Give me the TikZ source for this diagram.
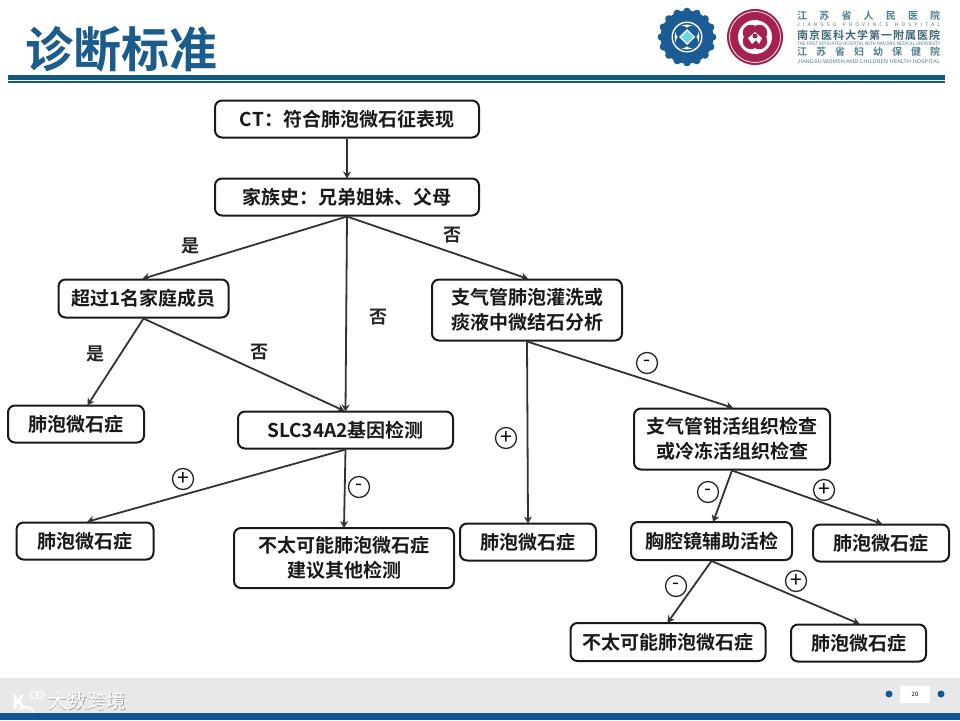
\documentclass[tikz,border=0pt]{standalone}
\usepackage{graphicx}
\usepackage{fontspec}
\setmainfont{Noto Sans CJK SC}[BoldFont={* Bold}]
\usetikzlibrary{arrows.meta,calc}
\definecolor{titleblue}{HTML}{1C5C8C}
\definecolor{ruleblue}{HTML}{12587F}
\definecolor{footblue}{HTML}{0F5898}
\definecolor{footgray}{HTML}{E8E8E8}
\definecolor{logoblue}{HTML}{1B5C94}
\definecolor{logored}{HTML}{A5214F}
\definecolor{logotext}{HTML}{4F7F8F}
\definecolor{logodark}{HTML}{3F6678}
\newcommand{\spreadline}[1]{\makebox[143pt][s]{#1}}
\tikzset{
 box/.style={draw=black!90,line width=2pt,rounded corners=7pt,fill=white,inner sep=0pt,align=center,font=\fontsize{19}{25}\selectfont\bfseries,text=black!90},
 conn/.style={draw=black!80,line width=1.8pt,-{Stealth[length=7pt,width=8pt]},shorten >=-1pt},
 lab/.style={font=\fontsize{18}{20}\selectfont\bfseries,text=black!85,inner sep=0pt},
 signbase/.style={circle,draw=black!85,line width=1.3pt,minimum size=21pt,inner sep=0pt,fill=white},
 plussign/.style={signbase,font=\fontsize{21}{21}\selectfont},
 minussign/.style={signbase,font=\fontsize{20}{20}\selectfont},
 hosp/.style={font=\fontsize{10}{10}\selectfont\bfseries,text=logotext,inner sep=0pt,anchor=west},
 tiny/.style={font=\fontsize{5}{5}\selectfont,text=logotext,inner sep=0pt,anchor=west},
 wmark/.style={font=\fontsize{19.5}{20}\selectfont,inner sep=0pt,anchor=west}
}
\begin{document}
\begin{tikzpicture}[x=1pt,y=-1pt]
\useasboundingbox (0,0) rectangle (960,720);
\fill[white] (0,0) rectangle (960,720);
% title and rules
\node[font=\fontsize{48}{48}\selectfont\bfseries,text=titleblue,inner sep=0pt,anchor=west] (title) at (25,49) {诊断标准};
\fill[ruleblue] (8,75) rectangle (945,79.5);
\fill[ruleblue] (8,80.5) rectangle (945,82.5);
% blue logo
\fill[logoblue] (687,37) circle (26.5);
\foreach \a in {0,22.5,...,337.5} \fill[logoblue] ($(687,37)+(\a:25.5)$) circle (3.8);
\fill[white] (687,37) circle (15.5);
\fill[logoblue] (687,37) circle (14);
\fill[white] (687,37) circle (12.5);
\foreach \a in {45,135,225,315} \fill[logoblue] ($(687,37)+(\a:6.5)$) circle (6.5);
\fill[white] (687,29) -- (695,37) -- (687,45) -- (679,37) -- cycle;
\fill[logoblue!45!cyan!60] (687,31) -- (693,37) -- (687,43) -- (681,37) -- cycle;
% red logo
\fill[logored] (755,37) circle (28);
\draw[white,line width=0.7pt] (755,37) circle (25.5);
\fill[white] (755,37) circle (17);
\foreach \a in {45,135,225,315} \fill[logored] ($(755,37)+(\a:6)$) circle (8);
\fill[white] (755,32) -- (762,38) -- (759,44) -- (756,40) -- (752,44) -- (748,38) -- cycle;
\fill[logored] (755,36) circle (2.5);
% hospital names
\node[hosp] (h1) at (797,16) {\spreadline{江\hfil 苏\hfil 省\hfil 人\hfil 民\hfil 医\hfil 院}};
\node[tiny] (h2) at (797,25) {\spreadline{J\hfil I\hfil A\hfil N\hfil G\hfil S\hfil U\hfil\hfil P\hfil R\hfil O\hfil V\hfil I\hfil N\hfil C\hfil E\hfil\hfil H\hfil O\hfil S\hfil P\hfil I\hfil T\hfil A\hfil L}};
\node[hosp,font=\fontsize{11}{11}\selectfont\bfseries,text=logodark] (h3) at (797,35) {\spreadline{南\hfil 京\hfil 医\hfil 科\hfil 大\hfil 学\hfil 第\hfil 一\hfil 附\hfil 属\hfil 医\hfil 院}};
\node[tiny] (h4) at (797,43.5) {\resizebox{143pt}{3.6pt}{THE FIRST AFFILIATED HOSPITAL WITH NANJING MEDICAL UNIVERSITY}};
\node[hosp] (h5) at (797,52) {\spreadline{江\hfil 苏\hfil 省\hfil 妇\hfil 幼\hfil 保\hfil 健\hfil 院}};
\node[tiny] (h6) at (797,61.5) {\resizebox{143pt}{3.8pt}{JIANGSU WOMEN AND CHILDREN HEALTH HOSPITAL}};
% footer
\fill[footgray] (0,678) rectangle (960,713);
\fill[footblue] (0,713) rectangle (960,720);
\fill[footblue] (889,694) circle (3.5);
\fill[footblue] (941,694) circle (3.5);
\node[fill=white,minimum width=30pt,minimum height=17pt,inner sep=0pt,font=\fontsize{6}{6}\selectfont] (pg) at (915,694) {20};
% watermark
\node[wmark,text=black!35] (wmshadow) at (48.7,701.7) {大数跨境};
\node[wmark,text=white] (wm) at (48,701) {大数跨境};
\node[font=\fontsize{19}{19}\selectfont\bfseries,text=white,inner sep=0pt] (wmk) at (19,702) {K};
\draw[white,line width=1.4pt] (19,710) arc (220:340:9);
\draw[white,line width=1pt] (34,695) circle (3.8) (40,695) circle (3.8);
% boxes
\node[box,minimum width=264pt,minimum height=37pt] (ct) at (347,119) {CT：符合肺泡微石征表现};
\node[box,minimum width=264pt,minimum height=37pt] (fam) at (347,197) {家族史：兄弟姐妹、父母};
\node[box,minimum width=170pt,minimum height=38pt] (over) at (143.5,298.5) {超过1名家庭成员};
\node[box,minimum width=190pt,minimum height=61pt] (bal) at (527,310) {支气管肺泡灌洗或\\痰液中微结石分析};
\node[box,minimum width=136pt,minimum height=37pt] (pam1) at (76,424) {肺泡微石症};
\node[box,minimum width=215pt,minimum height=37pt] (slc) at (345.5,430) {SLC34A2基因检测};
\node[box,minimum width=196pt,minimum height=61pt] (biopsy) at (732,439) {支气管钳活组织检查\\或冷冻活组织检查};
\node[box,minimum width=137pt,minimum height=37pt] (pam2) at (85,541) {肺泡微石症};
\node[box,minimum width=220pt,minimum height=60pt] (unl1) at (344,558) {不太可能肺泡微石症\\建议其他检测};
\node[box,minimum width=136pt,minimum height=37pt] (pam3) at (528,542) {肺泡微石症};
\node[box,minimum width=161pt,minimum height=38pt] (vats) at (711.5,541) {胸腔镜辅助活检};
\node[box,minimum width=136pt,minimum height=37pt] (pam4) at (881,543) {肺泡微石症};
\node[box,minimum width=195pt,minimum height=38pt] (unl2) at (668,642) {不太可能肺泡微石症};
\node[box,minimum width=135pt,minimum height=37pt] (pam5) at (858.5,643) {肺泡微石症};
% connectors
\draw[conn] (ct) -- (fam);
\draw[conn] (fam.south) -- (over.north);
\draw[conn] (fam.south) -- (slc.north);
\draw[conn] (fam.south) -- (bal.north);
\draw[conn] (over.south) -- ([xshift=12pt]pam1.north);
\draw[conn] (over.south) -- ([xshift=-2pt]slc.north);
\draw[conn] (slc.south) -- ([xshift=3pt]pam2.north);
\draw[conn] (slc.south) -- (unl1.north);
\draw[conn] (bal.south) -- (pam3.north);
\draw[conn] (bal.south) -- (biopsy.north);
\draw[conn] (biopsy.south) -- ([xshift=2pt]vats.north);
\draw[conn] (biopsy.south) -- (pam4.north);
\draw[conn] (vats.south) -- (unl2.north);
\draw[conn] (vats.south) -- (pam5.north);
% labels
\node[lab] (l1) at (190,246) {是};
\node[lab] (l2) at (452,235) {否};
\node[lab] (l3) at (378,317) {否};
\node[lab] (l4) at (95,354) {是};
\node[lab] (l5) at (259,352) {否};
\node[minussign] (s1) at (647,363) {-};
\node[plussign] (s2) at (506,438) {+};
\node[plussign] (s3) at (183,479) {+};
\node[minussign] (s4) at (359,487) {-};
\node[minussign] (s5) at (708,492) {-};
\node[plussign] (s6) at (824,490) {+};
\node[minussign] (s7) at (676,586) {-};
\node[plussign] (s8) at (796,581) {+};
\end{tikzpicture}
\end{document}
